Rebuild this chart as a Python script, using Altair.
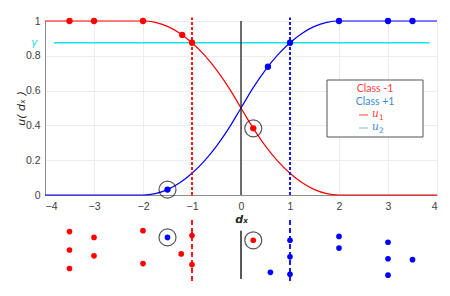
import altair as alt
import pandas as pd

# ---- curves ----
curve_x = [-4, -2, -1.75, -1.5, -1.25, -1, -0.75, -0.5, -0.25, 0, 0.25, 0.5, 0.75, 1, 1.25, 1.5, 1.75, 2, 4]
u1_vals = [1, 1, 0.992, 0.969, 0.93, 0.875, 0.805, 0.719, 0.617, 0.5, 0.383, 0.281, 0.195, 0.125, 0.07, 0.031, 0.008, 0, 0]
u2_vals = [0, 0, 0.008, 0.031, 0.07, 0.125, 0.195, 0.281, 0.383, 0.5, 0.617, 0.719, 0.805, 0.875, 0.93, 0.969, 0.992, 1, 1]

gamma = 0.875
gamma_x = [-3.82, 3.85]

# ---- top panel points ----
red_top_x = [-3.5, -3, -2, -1.2, -1, 0.25]
red_top_y = [1, 1, 1, 0.92, 0.875, 0.383]
blue_top_x = [-1.5, 0.55, 1, 2, 3, 3.5]
blue_top_y = [0.031, 0.737, 0.875, 1, 1, 1]
circ_top_x = [-1.5, 0.25]
circ_top_y = [0.031, 0.383]

# ---- bottom panel (2-D scatter) ----
red_bot_x = [-3.5, -3.5, -3.5, -3, -3, -2, -2, -1.22, -1, -1, 0.25]
red_bot_y = [0.80, 0.508, 0.215, 0.708, 0.415, 0.815, 0.292, 0.446, 0.738, 0.277, 0.662]
blue_bot_x = [-1.5, 0.6, 1, 1, 1, 2, 2, 3, 3, 3, 3.5]
blue_bot_y = [0.708, 0.154, 0.662, 0.40, 0.123, 0.723, 0.538, 0.631, 0.369, 0.108, 0.354]
circ_bot_x = [-1.5, 0.25]
circ_bot_y = [0.708, 0.662]

x_ticks = [-4, -3, -2, -1, 0, 1, 2, 3, 4]
y_ticks = [0, 0.2, 0.4, 0.6, 0.8, 1]

RED = "#ff0000"
BLUE = "#0000ff"
CYAN = "#19e3e8"
FONT = "Liberation Sans"

W = 392
H_TOP = 174
H_BOT = 63

NOVIEW = alt.ViewBackground(stroke="transparent", strokeWidth=0)


def X():
    return alt.X("x:Q", scale=alt.Scale(domain=[-4, 4], nice=False),
                 axis=alt.Axis(values=x_ticks, title="dₓ", titleFont="DejaVu Sans",
                               titleFontStyle="italic", titleFontWeight="bold", titleFontSize=11,
                               titleColor="#262626", titlePadding=2,
                               labelFont=FONT, labelFontSize=10.5, labelColor="#404040",
                               tickSize=0, labelPadding=6, grid=True, gridColor="#ececec",
                               domainColor="#8c8c8c", format="d"))


def Y():
    return alt.Y("y:Q", scale=alt.Scale(domain=[0, 1], nice=False),
                 axis=alt.Axis(values=y_ticks, title="u( dₓ )", titleFont="DejaVu Sans",
                               titleFontStyle="italic", titleFontWeight="normal", titleFontSize=11,
                               titleColor="#262626", titleX=-24, titleY=87,
                               titleAlign="center", titleBaseline="middle", titleAngle=270,
                               labelFont=FONT, labelFontSize=10.5, labelColor="#404040",
                               tickSize=0, labelPadding=5, grid=True, gridColor="#ececec",
                               domainColor="#8c8c8c",
                               labelExpr="datum.value == 0 || datum.value == 1 ? format(datum.value, 'd') : format(datum.value, '.1f')"))


df_u1 = pd.DataFrame({"x": curve_x, "y": u1_vals})
df_u2 = pd.DataFrame({"x": curve_x, "y": u2_vals})
df_gamma = pd.DataFrame({"x": [gamma_x[0]], "x2": [gamma_x[1]], "y": [gamma]})
df_vr = pd.DataFrame({"x": [-1], "y": [0], "y2": [1.02]})
df_vb = pd.DataFrame({"x": [1], "y": [0], "y2": [1.02]})
df_v0 = pd.DataFrame({"x": [0], "y": [0], "y2": [1.0]})
df_rt = pd.DataFrame({"x": red_top_x, "y": red_top_y})
df_bt = pd.DataFrame({"x": blue_top_x, "y": blue_top_y})
df_ct = pd.DataFrame({"x": circ_top_x, "y": circ_top_y})
df_one = pd.DataFrame({"a": [0]})

grid_base = alt.Chart(df_u1).mark_line(opacity=0).encode(x=X(), y=Y())

u1_line = alt.Chart(df_u1).mark_line(color=RED, strokeWidth=1.2, interpolate="monotone", clip=False).encode(x=X(), y=Y())
u2_line = alt.Chart(df_u2).mark_line(color=BLUE, strokeWidth=1.2, interpolate="monotone", clip=False).encode(x=X(), y=Y())
gamma_line = alt.Chart(df_gamma).mark_rule(color=CYAN, strokeWidth=1.3).encode(x=X(), x2="x2:Q", y=Y())
gamma_txt = alt.Chart(df_gamma).mark_text(text="γ", color=CYAN, font="DejaVu Sans", fontStyle="italic",
                                          fontSize=11, align="center").encode(
    x=alt.value(-11), y=Y())
vr = alt.Chart(df_vr).mark_rule(color=RED, strokeWidth=1.8, strokeDash=[3, 2]).encode(x=X(), y=Y(), y2="y2:Q")
vb = alt.Chart(df_vb).mark_rule(color=BLUE, strokeWidth=1.8, strokeDash=[3, 2]).encode(x=X(), y=Y(), y2="y2:Q")
v0 = alt.Chart(df_v0).mark_rule(color="#222222", strokeWidth=1.3).encode(x=X(), y=Y(), y2="y2:Q")
rt = alt.Chart(df_rt).mark_circle(color=RED, size=40, opacity=1).encode(x=X(), y=Y())
bt = alt.Chart(df_bt).mark_circle(color=BLUE, size=40, opacity=1).encode(x=X(), y=Y())
ct = alt.Chart(df_ct).mark_point(shape="circle", color="#111111", size=290, strokeWidth=1.2, filled=False).encode(x=X(), y=Y())

# legend box (layout positions in pixels)
leg_rect = alt.Chart(df_one).mark_rect(fill="white", stroke="#555555", strokeWidth=1).encode(
    x=alt.value(282), x2=alt.value(378), y=alt.value(59), y2=alt.value(116))
leg_c1 = alt.Chart(df_one).mark_text(text="Class -1", color="#ff4040", font="Lato", fontSize=10.5, align="center").encode(
    x=alt.value(330), y=alt.value(68))
leg_c2 = alt.Chart(df_one).mark_text(text="Class +1", color="#3a8ad6", font="Lato", fontSize=10.5, align="center").encode(
    x=alt.value(330), y=alt.value(81))
leg_l1 = alt.Chart(df_one).mark_rule(color="#ff4040", strokeWidth=1).encode(
    x=alt.value(314), x2=alt.value(323), y=alt.value(94))
leg_l2 = alt.Chart(df_one).mark_rule(color="#7fb2e0", strokeWidth=1).encode(
    x=alt.value(314), x2=alt.value(323), y=alt.value(107))
leg_u1 = alt.Chart(df_one).mark_text(text="u", color="#ff4040", font="DejaVu Serif", fontStyle="italic", fontSize=10.5, align="left").encode(
    x=alt.value(327), y=alt.value(93))
leg_s1 = alt.Chart(df_one).mark_text(text="1", color="#ff4040", font="DejaVu Sans", fontSize=7.5, align="left").encode(
    x=alt.value(334), y=alt.value(97))
leg_u2 = alt.Chart(df_one).mark_text(text="u", color="#3a8ad6", font="DejaVu Serif", fontStyle="italic", fontSize=10.5, align="left").encode(
    x=alt.value(327), y=alt.value(106))
leg_s2 = alt.Chart(df_one).mark_text(text="2", color="#3a8ad6", font="DejaVu Sans", fontSize=7.5, align="left").encode(
    x=alt.value(334), y=alt.value(110))

top = alt.layer(grid_base, gamma_line, u1_line, u2_line, vr, vb, v0, rt, bt, ct, gamma_txt,
                leg_rect, leg_c1, leg_c2, leg_l1, leg_l2, leg_u1, leg_s1, leg_u2, leg_s2).properties(
    width=W, height=H_TOP, view=NOVIEW)

# ---- bottom panel ----
XB = alt.X("x:Q", scale=alt.Scale(domain=[-4, 4], nice=False), axis=None)
YB = alt.Y("y:Q", scale=alt.Scale(domain=[0, 1], nice=False), axis=None)

df_rb = pd.DataFrame({"x": red_bot_x, "y": red_bot_y})
df_bb = pd.DataFrame({"x": blue_bot_x, "y": blue_bot_y})
df_cb = pd.DataFrame({"x": circ_bot_x, "y": circ_bot_y})
df_bvr = pd.DataFrame({"x": [-1], "y": [0.015], "y2": [0.985]})
df_bvb = pd.DataFrame({"x": [1], "y": [0.015], "y2": [1.0]})
df_bv0 = pd.DataFrame({"x": [0], "y": [0.046], "y2": [0.815]})

b_vr = alt.Chart(df_bvr).mark_rule(color=RED, strokeWidth=1.8, strokeDash=[5, 3]).encode(x=XB, y=YB, y2="y2:Q")
b_vb = alt.Chart(df_bvb).mark_rule(color=BLUE, strokeWidth=1.8, strokeDash=[5, 3]).encode(x=XB, y=YB, y2="y2:Q")
b_v0 = alt.Chart(df_bv0).mark_rule(color="#222222", strokeWidth=1.5).encode(x=XB, y=YB, y2="y2:Q")
b_r = alt.Chart(df_rb).mark_circle(color=RED, size=32, opacity=1).encode(x=XB, y=YB)
b_b = alt.Chart(df_bb).mark_circle(color=BLUE, size=32, opacity=1).encode(x=XB, y=YB)
b_c = alt.Chart(df_cb).mark_point(shape="circle", color="#111111", size=290, strokeWidth=1.2, filled=False).encode(x=XB, y=YB)

bottom = alt.layer(b_vr, b_vb, b_v0, b_r, b_b, b_c).properties(width=W, height=H_BOT, view=NOVIEW)

chart = alt.vconcat(top, bottom, spacing=24, bounds="flush").properties(
    padding={"left": 7, "top": 8, "right": 0, "bottom": 0}
).configure_view(stroke="transparent", strokeWidth=0).configure(background="white")

chart.save("out.html", embed_options={"renderer": "svg", "actions": False})
